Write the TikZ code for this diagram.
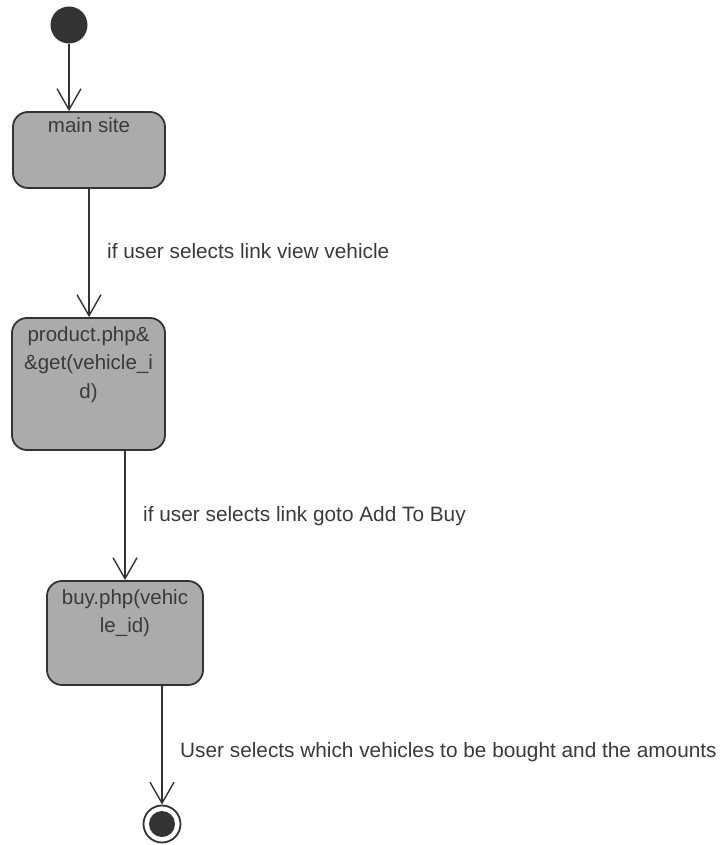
\documentclass[tikz,border=0pt]{standalone}
\usepackage{fontspec}
\setmainfont{Liberation Sans}
\usetikzlibrary{arrows.meta}
\definecolor{ink}{HTML}{333333}
\definecolor{txt}{HTML}{3A3A3A}
\definecolor{boxfill}{HTML}{ABABAB}
\begin{document}
\begin{tikzpicture}[x=1pt,y=1pt,
  statebox/.style={draw=ink, line width=1.8pt, fill=boxfill, rounded corners=15pt, inner sep=0pt},
  boxtext/.style={text=txt, font=\fontsize{20.5}{28.5}\selectfont, align=center, inner sep=0pt, anchor=north},
  flow/.style={draw=ink, line width=1.4pt, -{Straight Barb[length=21pt,width=24pt]}},
  guard/.style={text=txt, font=\fontsize{20.8}{25}\selectfont, anchor=base west, inner sep=0pt}]
\useasboundingbox (0,0) rectangle (722,-845);

% initial and final states
\node[circle, fill=ink, minimum size=37pt, inner sep=0pt] (start) at (69,-25) {};
\node[circle, draw=ink, line width=1.8pt, minimum size=37pt, inner sep=0pt] (final) at (162,-824) {};
\node[circle, fill=ink, minimum size=26pt, inner sep=0pt] (finalDot) at (final.center) {};

% activity states
\node[statebox, minimum width=152pt, minimum height=76pt] (main) at (89,-150) {};
\node[boxtext] (mainT) at ([yshift=-6.5pt]main.north) {main site};

\node[statebox, minimum width=153pt, minimum height=132pt] (product) at (88.5,-384) {};
\node[boxtext] (productT) at ([yshift=-9pt]product.north) {product.php\&\\\&get(vehicle\_i\\d)};

\node[statebox, minimum width=156pt, minimum height=104pt] (buy) at (125,-633) {};
\node[boxtext] (buyT) at ([yshift=-9pt]buy.north) {buy.php(vehic\\le\_id)};

% transitions
\draw[flow] (start.south) -- (start.south |- main.north);
\draw[flow] (main.south) -- (main.south |- product.north);
\draw[flow] (buy.north |- product.south) -- (buy.north);
\draw[flow] (final.north |- buy.south) -- (final.north);

% guard labels
\node[guard] (g1) at (107,-258) {if user selects link view vehicle};
\node[guard] (g2) at (143,-521) {if user selects link goto Add To Buy};
\node[guard] (g3) at (180,-757) {User selects which vehicles to be bought and the amounts};
\end{tikzpicture}
\end{document}
